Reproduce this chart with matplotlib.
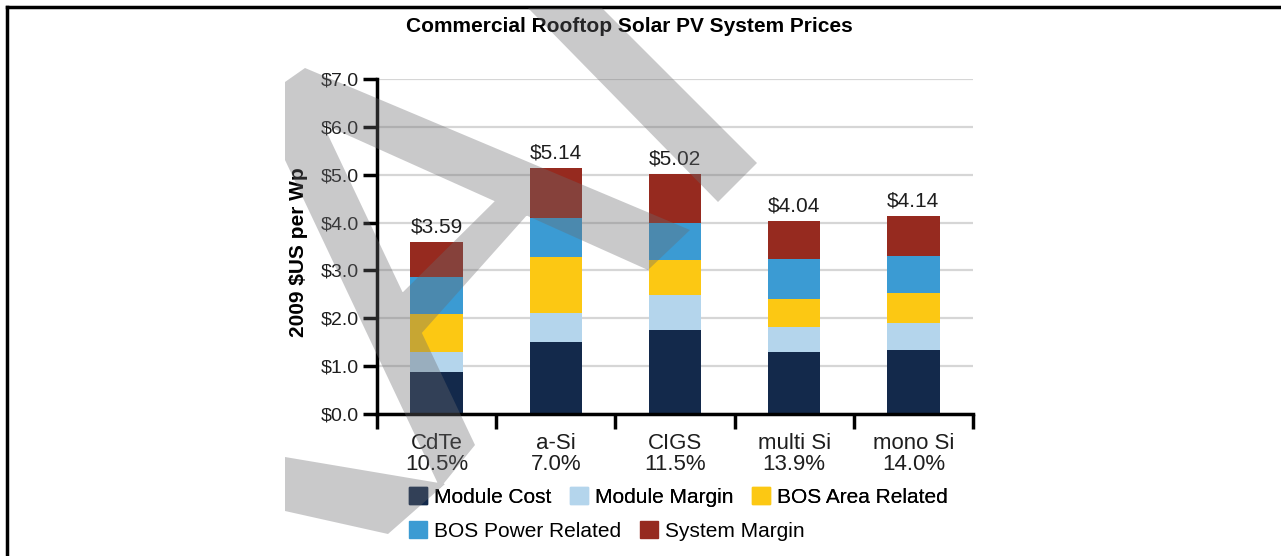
import matplotlib
matplotlib.use("Agg")
import matplotlib.pyplot as plt
import numpy as np
from matplotlib.path import Path
from matplotlib.patches import PathPatch, Patch

plt.rcParams['font.family'] = ['Liberation Sans', 'DejaVu Sans']

# chart data (2009 $US per Wp)
technologies = ["CdTe", "a-Si", "CIGS", "multi Si", "mono Si"]
efficiencies = ["10.5%", "7.0%", "11.5%", "13.9%", "14.0%"]
totals = [3.59, 5.14, 5.02, 4.04, 4.14]

component_names = ["Module Cost", "Module Margin", "BOS Area Related",
                   "BOS Power Related", "System Margin"]
module_cost = [0.88, 1.51, 1.75, 1.30, 1.34]
module_margin = [0.41, 0.61, 0.74, 0.52, 0.57]
bos_area = [0.79, 1.17, 0.73, 0.59, 0.61]
bos_power = [0.79, 0.80, 0.78, 0.82, 0.78]
system_margin = [0.72, 1.05, 1.02, 0.81, 0.84]

component_colors = ["#13294b", "#b4d5ec", "#fcc813", "#3b9bd3", "#962a1f"]

W, H = 1281, 556
fig = plt.figure(figsize=(W / 100, H / 100), dpi=100)
ax = fig.add_axes([377 / W, 1 - 414 / H, 596 / W, 335 / H])

x = np.arange(len(technologies))
series = [module_cost, module_margin, bos_area, bos_power, system_margin]
bottom = np.zeros(len(technologies))
containers = []
for vals, name, col in zip(series, component_names, component_colors):
    c = ax.bar(x, vals, width=0.44, bottom=bottom, color=col, label=name, zorder=3)
    containers.append(c)
    bottom += np.array(vals)

ax.bar_label(containers[-1], labels=[f"${t:.2f}" for t in totals],
             padding=4, fontsize=15, color="#1e1e1e")

ax.set_xlim(-0.5, len(technologies) - 0.5)
ax.set_ylim(0, 7)
ax.set_yticks(np.arange(0, 8))
ax.set_yticklabels([f"${v:.1f}" for v in range(8)])
ax.yaxis.grid(True, color="#d6d6d6", lw=1.6, zorder=0)
ax.set_axisbelow(True)

ax.set_xticks(x)
ax.set_xticklabels([f"{t}\n{e}" for t, e in zip(technologies, efficiencies)],
                   linespacing=1.0)
ax.set_xticks(np.arange(-0.5, len(technologies)), minor=True)
ax.tick_params(axis="x", which="major", length=0, pad=14, labelsize=16, labelcolor="#1e1e1e")
ax.tick_params(axis="x", which="minor", length=11, width=2.5, direction="out")
ax.tick_params(axis="y", length=10, width=2.5, direction="out", pad=3,
               labelsize=14, labelcolor="#1e1e1e")

for s in ["top", "right"]:
    ax.spines[s].set_visible(False)
for s in ["left", "bottom"]:
    ax.spines[s].set_linewidth(2.5)
    ax.spines[s].set_zorder(4)

ax.set_ylabel("2009 $US per Wp", fontsize=15, fontweight="bold")
ax.yaxis.set_label_coords((298 - 377) / 596, (414 - 252) / 335)
ax.yaxis.label.set_va("center")

fig.text(629 / W, 1 - 27 / H, "Commercial Rooftop Solar PV System Prices",
         ha="center", va="center", fontsize=15, fontweight="bold")

# legend in two rows as in the source
handles = [Patch(color=c) for c in component_colors]
leg_kw = dict(loc="center left", frameon=False, fontsize=15, handlelength=0.85,
              handleheight=0.85, handletextpad=0.35, columnspacing=0.9,
              borderpad=0, borderaxespad=0)
leg1 = fig.legend(handles[:3], component_names[:3], ncol=3,
                  bbox_to_anchor=(409 / W, 1 - 497 / H), **leg_kw)
fig.add_artist(leg1)
fig.legend(handles[3:], component_names[3:], ncol=2,
           bbox_to_anchor=(409 / W, 1 - 531 / H), **leg_kw)

# gray watermark strokes lying over the picture (pixel coordinates)
shapes = [
    [(285, 82), (305, 68), (690, 230), (648, 270), (285, 107)],
    [(285, 100), (320, 118), (475, 445), (440, 488), (285, 160)],
    [(500, 196), (528, 214), (420, 335), (395, 300)],
    [(285, 457), (445, 484), (388, 534), (285, 511)],
    [(528, 8), (602, 8), (757, 163), (718, 202)],
]
verts, codes = [], []
for poly in shapes:
    pts = [(px / W, 1 - py / H) for px, py in poly]
    # keep a common orientation so overlaps fill once
    area = sum(x0 * y1 - x1 * y0 for (x0, y0), (x1, y1) in zip(pts, pts[1:] + pts[:1]))
    if area < 0:
        pts = pts[::-1]
    verts += pts + [pts[0]]
    codes += [Path.MOVETO] + [Path.LINETO] * (len(pts) - 1) + [Path.CLOSEPOLY]
fig.add_artist(PathPatch(Path(verts, codes), transform=fig.transFigure,
                         facecolor="#6a6a6e", edgecolor="none", alpha=0.36, zorder=10))

# frame lines at top and left of the source image
fig.add_artist(plt.Line2D([7 / W, 1], [1 - 7 / H, 1 - 7 / H], color="black", lw=2.5,
                          transform=fig.transFigure))
fig.add_artist(plt.Line2D([7 / W, 7 / W], [0, 1 - 7 / H], color="black", lw=2.5,
                          transform=fig.transFigure))

fig.savefig("out.png", dpi=100)
